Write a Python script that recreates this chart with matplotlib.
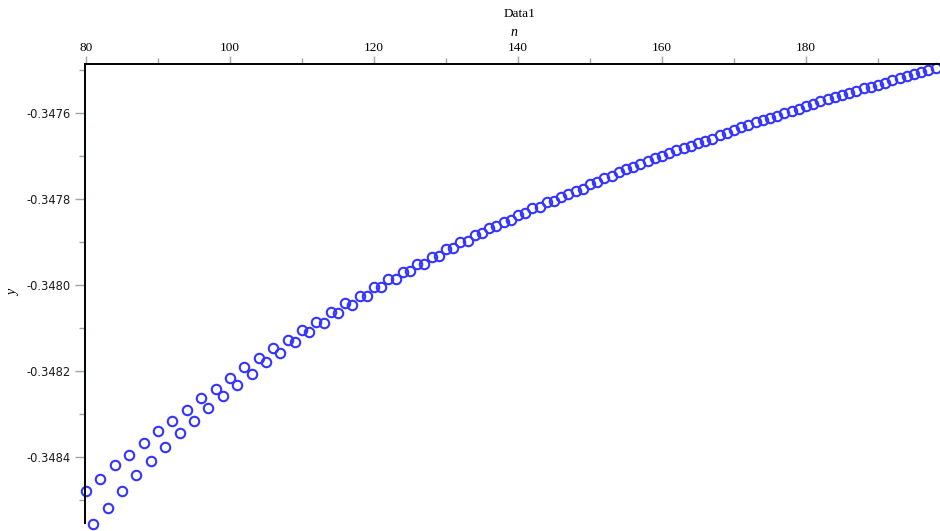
import matplotlib
matplotlib.use("Agg")
import matplotlib.pyplot as plt
import numpy as np
from matplotlib.ticker import MultipleLocator, FormatStrFormatter

plt.rcParams['axes.unicode_minus'] = False

# sequence index and computed values
n_first = 80
y_vals = [
    -0.3484799, -0.3485568, -0.3484520, -0.3485188, -0.3484201, -0.3484792,
    -0.3483954, -0.3484426, -0.3483681, -0.3484093, -0.3483408, -0.3483781,
    -0.3483162, -0.3483448, -0.3482912, -0.3483162, -0.3482644, -0.3482866,
    -0.3482423, -0.3482591, -0.3482174, -0.3482323, -0.3481917, -0.3482074,
    -0.3481701, -0.3481801, -0.3481475, -0.3481577, -0.3481274, -0.3481335,
    -0.3481048, -0.3481102, -0.3480862, -0.3480892, -0.3480636, -0.3480659,
    -0.3480426, -0.3480466, -0.3480249, -0.3480256, -0.3480054, -0.3480054,
    -0.3479860, -0.3479867, -0.3479690, -0.3479674, -0.3479518, -0.3479504,
    -0.3479341, -0.3479325, -0.3479168, -0.3479145, -0.3479005, -0.3478968,
    -0.3478835, -0.3478782, -0.3478679, -0.3478626, -0.3478525, -0.3478479,
    -0.3478376, -0.3478330, -0.3478213, -0.3478176, -0.3478073, -0.3478036,
    -0.3477943, -0.3477887, -0.3477810, -0.3477757, -0.3477647, -0.3477608,
    -0.3477514, -0.3477454, -0.3477361, -0.3477305, -0.3477244, -0.3477188,
    -0.3477111, -0.3477048, -0.3476995, -0.3476932, -0.3476862, -0.3476815,
    -0.3476762, -0.3476699, -0.3476645, -0.3476599, -0.3476506, -0.3476459,
    -0.3476377, -0.3476319, -0.3476261, -0.3476210, -0.3476156, -0.3476105,
    -0.3476051, -0.3476000, -0.3475946, -0.3475888, -0.3475830, -0.3475772,
    -0.3475720, -0.3475674, -0.3475627, -0.3475574, -0.3475520, -0.3475473,
    -0.3475418, -0.3475380, -0.3475341, -0.3475287, -0.3475231, -0.3475185,
    -0.3475138, -0.3475091, -0.3475045, -0.3474998, -0.3474952,
]
n_vals = np.arange(n_first, n_first + len(y_vals))

x_ticks = [80, 100, 120, 140, 160, 180]
y_ticks = [-0.3484, -0.3482, -0.3480, -0.3478, -0.3476]

tick_col = "#98ab98"

fig = plt.figure(figsize=(9.4, 5.31), dpi=100)
ax = fig.add_axes([84.5 / 940, 8 / 531, 1 - 84.5 / 940, (523 - 64) / 531])

ax.plot(n_vals, y_vals, linestyle="none", marker="o", markersize=6.8,
        markerfacecolor="none", markeredgecolor="#3434ff", markeredgewidth=1.5,
        clip_on=False)

ax.set_xlim(79.79, 198.61)
ax.set_ylim(-0.3485545, -0.347485)

# axis lines only on top and left
ax.spines["right"].set_visible(False)
ax.spines["bottom"].set_visible(False)
ax.spines["top"].set_linewidth(1.4)
ax.spines["left"].set_linewidth(1.4)

ax.xaxis.tick_top()
ax.set_xticks(x_ticks)
ax.xaxis.set_minor_locator(MultipleLocator(10))
ax.set_yticks(y_ticks)
ax.yaxis.set_minor_locator(MultipleLocator(0.0001))
ax.yaxis.set_major_formatter(FormatStrFormatter("%.4f"))

ax.tick_params(axis="x", which="major", direction="out", length=6, width=1,
               color=tick_col, pad=1.5, labelsize=9.5)
ax.tick_params(axis="x", which="minor", direction="out", length=4, width=1,
               color=tick_col)
ax.tick_params(axis="y", which="major", direction="out", length=7, width=1,
               color=tick_col, pad=3, labelsize=8.3, labelcolor="#1a1a1a")
ax.tick_params(axis="y", which="minor", direction="out", length=4, width=1,
               color=tick_col)
for lab in ax.get_xticklabels():
    lab.set_family("Liberation Serif")

fig.text(520 / 940, 1 - 14 / 531, "Data1", ha="center", va="center",
         family="Liberation Serif", fontsize=9.5)
fig.text(514 / 940, 1 - 32 / 531, "n", ha="center", va="center",
         family="Liberation Serif", style="italic", fontsize=10)
fig.text(14 / 940, 1 - 293 / 531, "y", ha="center", va="center", rotation=90,
         family="Liberation Serif", style="italic", fontsize=10)

fig.savefig("out.png", dpi=100)
